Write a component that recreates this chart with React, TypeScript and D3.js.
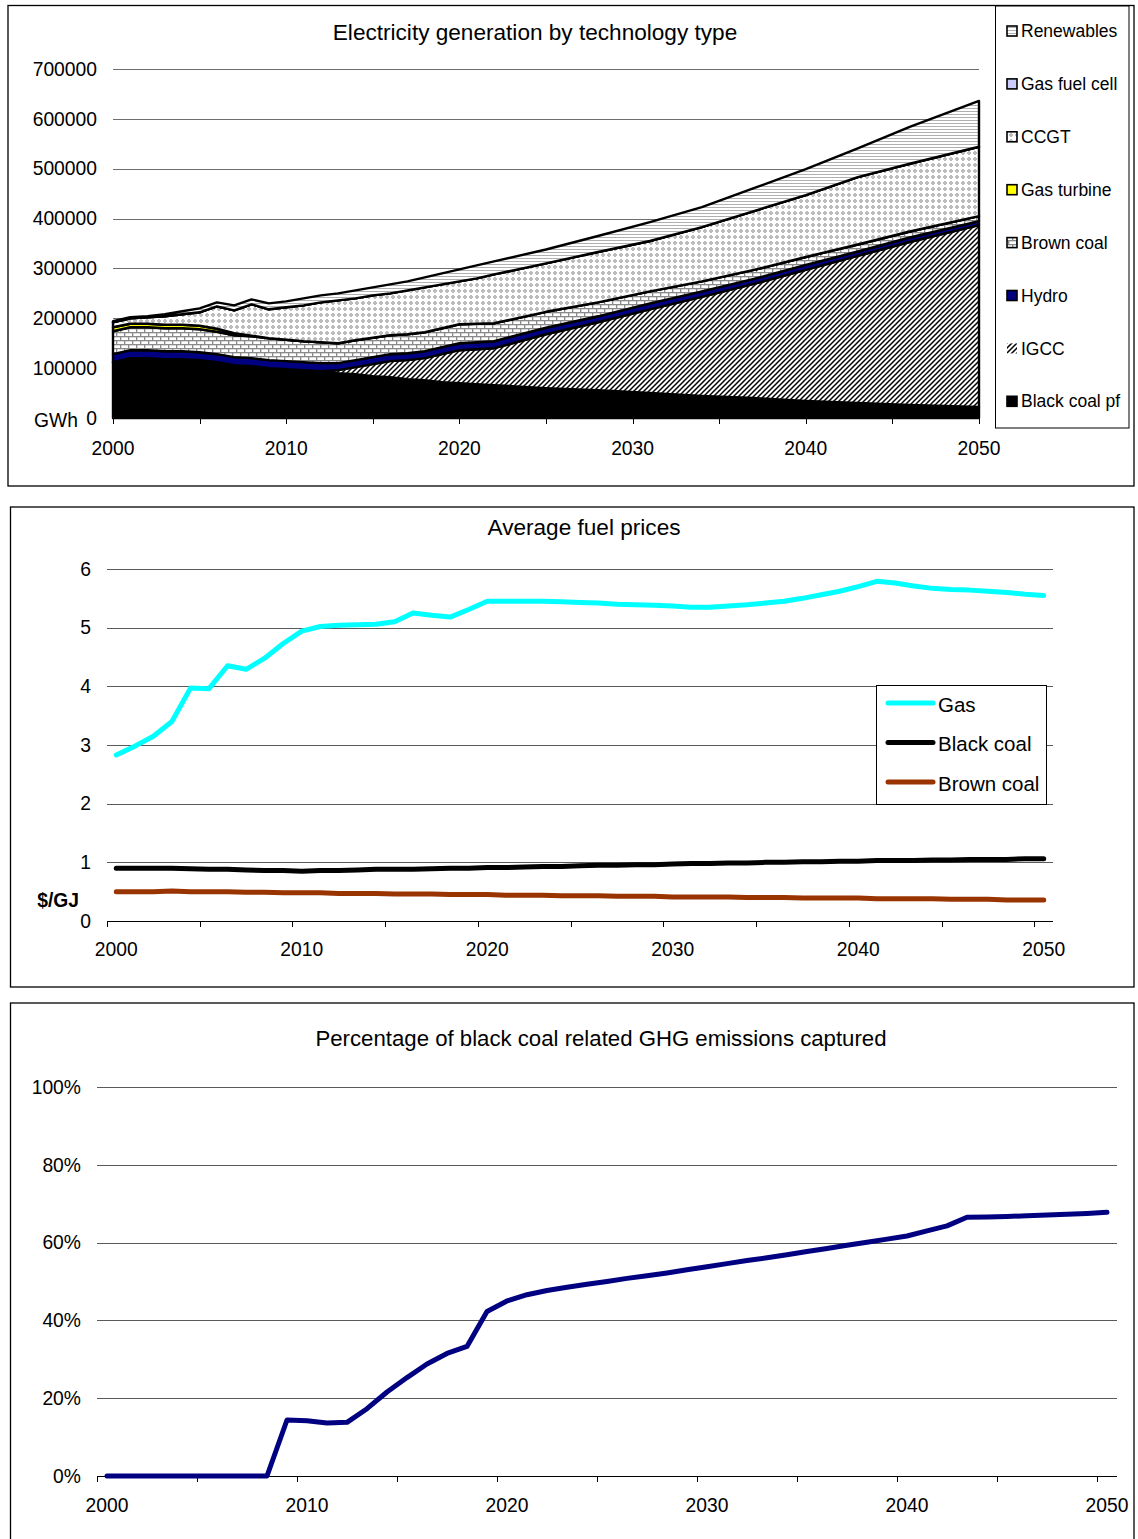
import React from "react";
import * as d3 from "d3";

// ---------- Electricity generation (GWh) ----------
const genYears = [
  2000, 2001, 2002, 2003, 2004, 2005, 2006, 2007, 2008, 2009, 2010, 2011, 2012,
  2013, 2014, 2015, 2016, 2017, 2018, 2019, 2020, 2021, 2022,
  2025, 2028, 2031, 2034, 2037, 2040, 2043, 2046, 2050,
];
const blackCoalPf = [
  112000, 120000, 120000, 118000, 118000, 116000, 112000, 106000, 104000, 100000, 98000, 96000, 94000,
  90000, 88000, 84000, 82000, 78000, 76000, 72000, 70000, 68000, 66000,
  60000, 56000, 50000, 44000, 40000, 34000, 30000, 26000, 22000,
];
const igcc = [
  0, 0, 0, 0, 0, 0, 0, 0, 0, 0, 0, 0, 0,
  6000, 14000, 24000, 32000, 38000, 44000, 56000, 66000, 70000, 74000,
  108000, 136000, 168000, 199000, 229000, 263000, 295000, 327000, 365000,
];
const hydro = [
  16000, 16000, 16000, 16000, 16000, 16000, 16000, 16000, 16000, 16000, 16000, 16000, 16000,
  14000, 14000, 14000, 14000, 14000, 14000, 14000, 14000, 14000, 14000,
  13000, 12000, 12000, 11000, 10000, 10000, 9000, 9000, 8000,
];
const brownCoal = [
  46000, 46000, 46000, 46000, 46000, 46000, 45000, 44000, 44000, 44000, 43000, 42000, 42000,
  40000, 40000, 39000, 38000, 38000, 38000, 38000, 38000, 37000, 36000,
  32000, 28000, 24000, 20000, 18000, 16000, 14000, 12000, 10000,
];
const gasTurbine = [
  8000, 7000, 7000, 7000, 7000, 7000, 6000, 4000, 1000, 0, 0, 0, 0,
  0, 0, 0, 0, 0, 0, 0, 0, 0, 0,
  0, 0, 0, 0, 0, 0, 0, 0, 0,
];
const ccgt = [
  10000, 11000, 13000, 17000, 21000, 27000, 45000, 46000, 63000, 58000, 65000, 72000, 80000,
  86000, 84000, 85000, 84000, 88000, 90000, 88000, 86000, 91000, 98000,
  97000, 101000, 101000, 109000, 118000, 124000, 135000, 136000, 139000,
];
const gasFuelCell = [
  0, 0, 0, 0, 0, 0, 0, 0, 0, 0, 0, 0, 0,
  0, 0, 0, 0, 0, 0, 0, 0, 0, 0,
  0, 0, 0, 0, 0, 0, 0, 0, 0,
];
const renewables = [
  2000, 2000, 2000, 4000, 6000, 8000, 8000, 10000, 10000, 12000, 12000, 14000, 14000,
  14000, 16000, 16000, 18000, 18000, 20000, 22000, 24000, 26000, 26000,
  28000, 32000, 38000, 40000, 46000, 52000, 58000, 74000, 92000,
];
const genTicks = [0, 100000, 200000, 300000, 400000, 500000, 600000, 700000];
const yearLabels = [2000, 2010, 2020, 2030, 2040, 2050];

// ---------- Fuel prices ($/GJ) ----------
const priceYears = d3.range(2000, 2051);
const gasPrice = [
  2.83, 2.98, 3.15, 3.4, 3.97, 3.96, 4.35, 4.29, 4.48, 4.73,
  4.94, 5.02, 5.04, 5.05, 5.06, 5.1, 5.25, 5.21, 5.18, 5.31,
  5.45, 5.45, 5.45, 5.45, 5.44, 5.43, 5.42, 5.4, 5.39, 5.38,
  5.37, 5.35, 5.35, 5.37, 5.39, 5.42, 5.45, 5.5, 5.56, 5.62,
  5.7, 5.79, 5.76, 5.71, 5.67, 5.65, 5.64, 5.62, 5.6, 5.57, 5.55,
];
const blackCoalPrice = [
  0.9, 0.9, 0.9, 0.9, 0.89, 0.88, 0.88, 0.87, 0.86, 0.86,
  0.85, 0.86, 0.86, 0.87, 0.88, 0.88, 0.88, 0.89, 0.9, 0.9,
  0.91, 0.91, 0.92, 0.93, 0.93, 0.94, 0.95, 0.95, 0.96, 0.96,
  0.97, 0.98, 0.98, 0.99, 0.99, 1.0, 1.0, 1.01, 1.01, 1.02,
  1.02, 1.03, 1.03, 1.03, 1.04, 1.04, 1.05, 1.05, 1.05, 1.06, 1.06,
];
const brownCoalPrice = [
  0.5, 0.5, 0.5, 0.51, 0.5, 0.5, 0.5, 0.49, 0.49, 0.48,
  0.48, 0.48, 0.47, 0.47, 0.47, 0.46, 0.46, 0.46, 0.45, 0.45,
  0.45, 0.44, 0.44, 0.44, 0.43, 0.43, 0.43, 0.42, 0.42, 0.42,
  0.41, 0.41, 0.41, 0.41, 0.4, 0.4, 0.4, 0.39, 0.39, 0.39,
  0.39, 0.38, 0.38, 0.38, 0.38, 0.37, 0.37, 0.37, 0.36, 0.36, 0.36,
];
const priceTicks = [0, 1, 2, 3, 4, 5, 6];

// ---------- Share of black coal emissions captured (%) ----------
const capturedPct = [
  0, 0, 0, 0, 0, 0, 0, 0, 0, 14.4,
  14.2, 13.6, 13.8, 17.3, 21.6, 25.3, 28.8, 31.5, 33.3, 42.3,
  45.0, 46.6, 47.7, 48.5, 49.3, 50.0, 50.8, 51.5, 52.2, 53.0,
  53.8, 54.6, 55.4, 56.1, 56.9, 57.7, 58.5, 59.3, 60.1, 60.9,
  61.7, 63.0, 64.3, 66.5, 66.6, 66.7, 66.9, 67.1, 67.3, 67.5, 67.8,
];
const pctTicks = [0, 20, 40, 60, 80, 100];

const FONT = "'Liberation Sans', Arial, Helvetica, sans-serif";
const TITLE_SIZE = 22.6;

type Layer = { key: string; label: string; values: number[]; fill: string; legendStroke: boolean };

const layers: Layer[] = [
  { key: "blackCoalPf", label: "Black coal pf", values: blackCoalPf, fill: "#000000", legendStroke: true },
  { key: "igcc", label: "IGCC", values: igcc, fill: "url(#patHatch)", legendStroke: false },
  { key: "hydro", label: "Hydro", values: hydro, fill: "#000080", legendStroke: true },
  { key: "brownCoal", label: "Brown coal", values: brownCoal, fill: "url(#patBrick)", legendStroke: true },
  { key: "gasTurbine", label: "Gas turbine", values: gasTurbine, fill: "#ffff00", legendStroke: true },
  { key: "ccgt", label: "CCGT", values: ccgt, fill: "url(#patCcgt)", legendStroke: true },
  { key: "gasFuelCell", label: "Gas fuel cell", values: gasFuelCell, fill: "#ccccff", legendStroke: true },
  { key: "renewables", label: "Renewables", values: renewables, fill: "url(#patRenew)", legendStroke: true },
];

function GenerationChart() {
  const x = d3.scaleLinear().domain([2000, 2050]).range([113, 979]);
  const y = d3.scaleLinear().domain([0, 700000]).range([418, 69]);

  const rows = genYears.map((yr, i) => {
    const r: Record<string, number> = { year: yr };
    layers.forEach((l) => (r[l.key] = l.values[i]));
    return r;
  });
  const stacked = d3.stack<Record<string, number>>().keys(layers.map((l) => l.key))(rows);
  const area = d3
    .area<d3.SeriesPoint<Record<string, number>>>()
    .x((d) => x(d.data.year))
    .y0((d) => y(d[0]))
    .y1((d) => y(d[1]));

  const tickYears = d3.range(2000, 2051, 5);
  const legendOrder = [...layers].reverse();

  return (
    <g>
      <rect x={8} y={5.5} width={1126} height={480.5} fill="#fff" stroke="#000" strokeWidth={1.3} />
      <text x={535} y={32} dy="0.35em" textAnchor="middle" fontSize={TITLE_SIZE}>
        Electricity generation by technology type
      </text>
      {genTicks.slice(1).map((t) => (
        <line key={t} x1={113} x2={979} y1={Math.round(y(t)) + 0.5} y2={Math.round(y(t)) + 0.5} stroke="#6e6e6e" strokeWidth={1} />
      ))}
      {genTicks.map((t) => (
        <text key={t} x={97} y={y(t)} dy="0.35em" textAnchor="end" fontSize={19.3}>
          {t}
        </text>
      ))}
      <text x={78} y={y(0) + 2} dy="0.35em" textAnchor="end" fontSize={19.3}>
        GWh
      </text>
      {stacked.map((s, i) => (
        <path
          key={s.key}
          d={area(s) || ""}
          fill={layers[i].fill}
          stroke="#000"
          strokeWidth={2.4}
          strokeLinejoin="round"
        />
      ))}
      <line x1={113} x2={979} y1={418.5} y2={418.5} stroke="#000" strokeWidth={1} />
      {tickYears.map((t) => (
        <line key={t} x1={Math.round(x(t)) + 0.5} x2={Math.round(x(t)) + 0.5} y1={418} y2={424} stroke="#000" strokeWidth={1} />
      ))}
      {yearLabels.map((t) => (
        <text key={t} x={x(t)} y={448} dy="0.35em" textAnchor="middle" fontSize={19.3}>
          {t}
        </text>
      ))}
      {/* legend */}
      <rect x={995.5} y={6} width={133.5} height={422} fill="#fff" stroke="#000" strokeWidth={1} />
      {legendOrder.map((l, i) => {
        const cy = 31 + i * 52.9;
        return (
          <g key={l.key}>
            <rect
              x={1007}
              y={cy - 5}
              width={10}
              height={10}
              fill={l.fill}
              stroke={l.legendStroke ? "#000" : "none"}
              strokeWidth={1.6}
            />
            <text x={1021} y={cy} dy="0.35em" fontSize={17.5}>
              {l.label}
            </text>
          </g>
        );
      })}
    </g>
  );
}

function PriceChart() {
  const x = d3.scaleBand<number>().domain(priceYears).range([107, 1053]).paddingInner(0).paddingOuter(0);
  const bw = x.bandwidth();
  const cx = (yr: number) => (x(yr) as number) + bw / 2;
  const y = d3.scaleLinear().domain([0, 6]).range([921, 569]);
  const line = d3
    .line<number>()
    .x((_, i) => cx(priceYears[i]))
    .y((d) => y(d));

  const series = [
    { label: "Gas", values: gasPrice, color: "#00ffff" },
    { label: "Black coal", values: blackCoalPrice, color: "#000000" },
    { label: "Brown coal", values: brownCoalPrice, color: "#993300" },
  ];
  const tickYears = d3.range(2000, 2051, 5);

  return (
    <g>
      <rect x={10.5} y={507} width={1123.5} height={480} fill="#fff" stroke="#000" strokeWidth={1.3} />
      <text x={584} y={527} dy="0.35em" textAnchor="middle" fontSize={TITLE_SIZE}>
        Average fuel prices
      </text>
      {priceTicks.slice(1).map((t) => (
        <line key={t} x1={107} x2={1053} y1={Math.round(y(t)) + 0.5} y2={Math.round(y(t)) + 0.5} stroke="#5a5a5a" strokeWidth={1} />
      ))}
      {priceTicks.map((t) => (
        <text key={t} x={91} y={y(t)} dy="0.35em" textAnchor="end" fontSize={19.3}>
          {t}
        </text>
      ))}
      <text x={79} y={900} dy="0.35em" textAnchor="end" fontSize={19.3} fontWeight="bold">
        $/GJ
      </text>
      <line x1={107} x2={1053} y1={921.5} y2={921.5} stroke="#000" strokeWidth={1} />
      {tickYears.map((t) => (
        <line key={t} x1={Math.round(x(t) as number) + 0.5} x2={Math.round(x(t) as number) + 0.5} y1={921} y2={927} stroke="#000" strokeWidth={1} />
      ))}
      {yearLabels.map((t) => (
        <text key={t} x={cx(t)} y={949} dy="0.35em" textAnchor="middle" fontSize={19.3}>
          {t}
        </text>
      ))}
      {series.map((s) => (
        <path
          key={s.label}
          d={line(s.values) || ""}
          fill="none"
          stroke={s.color}
          strokeWidth={5}
          strokeLinejoin="round"
          strokeLinecap="round"
        />
      ))}
      {/* legend */}
      <rect x={876.5} y={685.5} width={170} height={119} fill="#fff" stroke="#000" strokeWidth={1} />
      {series.map((s, i) => {
        const cy = 704.5 + i * 39.5;
        return (
          <g key={s.label}>
            <line x1={888} x2={933} y1={cy - 1.5} y2={cy - 1.5} stroke={s.color} strokeWidth={5} strokeLinecap="round" />
            <text x={938} y={cy} dy="0.35em" fontSize={20.5}>
              {s.label}
            </text>
          </g>
        );
      })}
    </g>
  );
}

function CaptureChart() {
  const x = d3.scaleBand<number>().domain(priceYears).range([97, 1117]).paddingInner(0).paddingOuter(0);
  const bw = x.bandwidth();
  const cx = (yr: number) => (x(yr) as number) + bw / 2;
  const y = d3.scaleLinear().domain([0, 100]).range([1476, 1087]);
  const line = d3
    .line<number>()
    .x((_, i) => cx(priceYears[i]))
    .y((d) => y(d));
  const tickYears = d3.range(2000, 2051, 5);

  return (
    <g>
      <rect x={10.5} y={1003} width={1123.5} height={540} fill="#fff" stroke="#000" strokeWidth={1.3} />
      <text x={601} y={1038} dy="0.35em" textAnchor="middle" fontSize={22.2}>
        Percentage of black coal related GHG emissions captured
      </text>
      {pctTicks.slice(1).map((t) => (
        <line key={t} x1={97} x2={1117} y1={Math.round(y(t)) + 0.5} y2={Math.round(y(t)) + 0.5} stroke="#5a5a5a" strokeWidth={1} />
      ))}
      {pctTicks.map((t) => (
        <text key={t} x={81} y={y(t)} dy="0.35em" textAnchor="end" fontSize={19.3}>
          {t}%
        </text>
      ))}
      <line x1={97} x2={1117} y1={1476.5} y2={1476.5} stroke="#000" strokeWidth={1} />
      {tickYears.map((t) => (
        <line key={t} x1={Math.round(x(t) as number) + 0.5} x2={Math.round(x(t) as number) + 0.5} y1={1476} y2={1482} stroke="#000" strokeWidth={1} />
      ))}
      {yearLabels.map((t) => (
        <text key={t} x={cx(t)} y={1505} dy="0.35em" textAnchor="middle" fontSize={19.3}>
          {t}
        </text>
      ))}
      <path
        d={line(capturedPct) || ""}
        fill="none"
        stroke="#000080"
        strokeWidth={5}
        strokeLinejoin="round"
        strokeLinecap="round"
      />
    </g>
  );
}

export default function App() {
  return (
    <svg
      width={1138}
      height={1539}
      viewBox="0 0 1138 1539"
      style={{ position: "absolute", left: 0, top: 0, background: "#fff" }}
      fontFamily={FONT}
    >
      <defs>
        <pattern id="patRenew" width={4} height={3} patternUnits="userSpaceOnUse">
          <rect width={4} height={3} fill="#fff" />
          <rect y={0} width={4} height={1} fill="#b0b0b0" />
        </pattern>
        <pattern id="patCcgt" width={6} height={6} patternUnits="userSpaceOnUse">
          <rect width={6} height={6} fill="#fff" />
          <rect x={1} y={2} width={4} height={2} fill="#bcbcbc" />
          <rect x={2} y={1} width={2} height={4} fill="#bcbcbc" />
        </pattern>
        <pattern id="patBrick" width={8} height={8} patternUnits="userSpaceOnUse">
          <rect width={8} height={8} fill="#fff" />
          <rect y={0} width={8} height={1.3} fill="#8a8a8a" />
          <rect y={4} width={8} height={1.3} fill="#8a8a8a" />
          <rect x={0} y={0} width={1.3} height={4} fill="#8a8a8a" />
          <rect x={4} y={4} width={1.3} height={4} fill="#8a8a8a" />
        </pattern>
        <pattern id="patHatch" width={5} height={5} patternUnits="userSpaceOnUse">
          <rect width={5} height={5} fill="#fff" />
          <path d="M-1,1 L1,-1 M0,5 L5,0 M4,6 L6,4" stroke="#000" strokeWidth={1.5} />
        </pattern>
      </defs>
      <rect width={1138} height={1539} fill="#fff" />
      <GenerationChart />
      <PriceChart />
      <CaptureChart />
    </svg>
  );
}
